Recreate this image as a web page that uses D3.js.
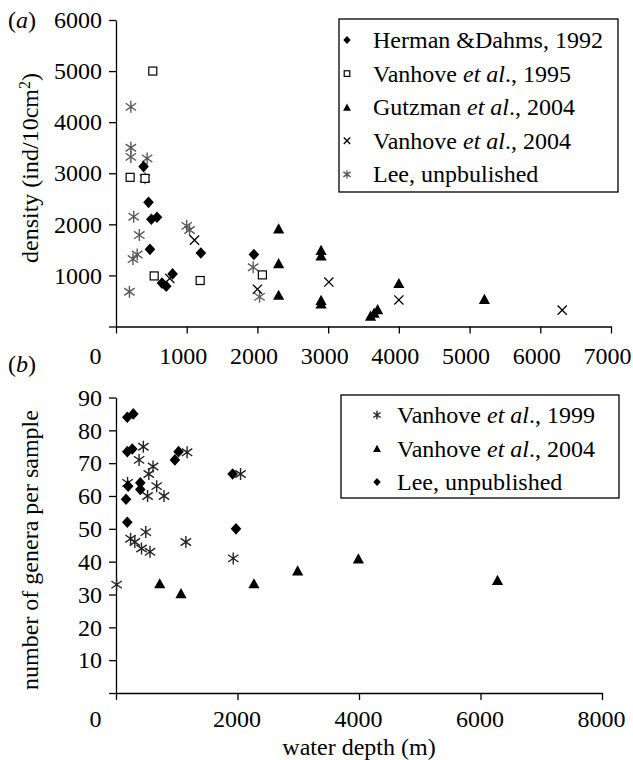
<!DOCTYPE html>
<html><head><meta charset="utf-8">
<script src="https://cdn.jsdelivr.net/npm/d3@7"></script>
<style>
html,body{margin:0;padding:0;background:#fff;}
svg text{font-family:"Liberation Serif","Times New Roman",serif;font-size:24px;fill:#000;}
</style></head>
<body>
<svg id="chart" width="633" height="760"></svg>
<script>
// ---------- data : panel (a) density ----------
const hermanDahms1992 = [[390,3130],[460,2430],[500,2100],[580,2140],[480,1510],[650,850],[710,790],[800,1030],[1200,1440],[1950,1410]];
const vanhove1995 = [[520,5000],[200,2920],[410,2900],[540,990],[1190,900],[2070,1010]];
const gutzman2004 = [[2300,1920],[2300,1240],[2300,620],[2900,1500],[2900,1390],[2900,520],[2900,450],[3600,210],[3650,270],[3700,340],[4000,850],[5210,540]];
const vanhove2004a = [[760,940],[1110,1690],[2000,730],[3010,870],[4000,520],[6310,320]];
const leeUnpublishedA = [[210,4300],[210,3500],[210,3320],[440,3290],[410,2900],[250,2150],[330,1790],[240,1320],[300,1410],[190,680],[1000,1970],[1040,1890],[1940,1160],[2030,580]];
const xTicksA = [0,1000,2000,3000,4000,5000,6000,7000];
const yTicksA = [0,1000,2000,3000,4000,5000,6000];

// ---------- data : panel (b) genera ----------
const vanhove1999 = [[10,33],[190,64],[240,47],[310,46],[380,71],[420,44],[450,75],[490,49],[520,60],[540,66.7],[560,43],[610,69],[670,63],[790,60],[1150,46],[1170,73.3],[1930,41],[2050,66.7]];
const vanhove2004b = [[720,33.4],[1070,30.4],[2270,33.4],[2990,37.3],[3990,41],[6280,34.4]];
const leeUnpublishedB = [[165,59],[186,84],[285,85],[186,73.5],[268,74.3],[200,63],[400,64],[400,62],[970,71],[1030,73.5],[1920,66.7],[186,52],[1975,50]];
const xTicksB = [0,2000,4000,6000,8000];
const yTicksB = [0,10,20,30,40,50,60,70,80,90];

const svg = d3.select("#chart");

// ---------- marker shapes ----------
function marker(g, type, s, color){
  const k = s/10;
  if(type==="diamond"){
    g.append("path").attr("d",`M0,${-5.8*k}L${5.3*k},0L0,${5.8*k}L${-5.3*k},0Z`).attr("fill","#000");
  } else if(type==="square"){
    g.append("rect").attr("x",-4*k).attr("y",-4*k).attr("width",8*k).attr("height",8*k)
      .attr("fill","#fff").attr("stroke","#000").attr("stroke-width",1.2);
  } else if(type==="triangle"){
    g.append("path").attr("d",`M0,${-5.2*k}L${5.6*k},${5*k}L${-5.6*k},${5*k}Z`).attr("fill","#000");
  } else if(type==="cross"){
    const a=4.6*k;
    g.append("path").attr("d",`M${-a},${-a}L${a},${a}M${-a},${a}L${a},${-a}`)
      .attr("stroke","#000").attr("stroke-width",1.3).attr("fill","none");
  } else if(type==="star"){
    const a=5.2*k, b=6*k;
    g.append("path").attr("d",`M${-a},${-a*0.7}L${a},${a*0.7}M${-a},${a*0.7}L${a},${-a*0.7}M0,${-b}L0,${b}`)
      .attr("stroke",color||"#000").attr("stroke-width",1.4).attr("fill","none");
  }
}

function plotSeries(data, x, y, type, color){
  const g = svg.append("g");
  g.selectAll("g.pt").data(data).join("g").attr("class","pt")
    .attr("transform",d=>`translate(${x(d[0])},${y(d[1])})`)
    .each(function(){ marker(d3.select(this), type, 10, color); });
}

function drawAxes(x, y, xTicks, yTicks, xPad, xShift){
  const gx = svg.append("g").attr("transform",`translate(0,${y(0)})`)
    .call(d3.axisBottom(x).tickValues(xTicks).tickSize(7).tickSizeOuter(0).tickPadding(xPad).tickFormat(d=>d));
  const gy = svg.append("g").attr("transform",`translate(${x(0)},0)`)
    .call(d3.axisLeft(y).tickValues(yTicks).tickSize(7).tickSizeOuter(0).tickPadding(7).tickFormat(d=> d===0 ? "" : d));
  [gx,gy].forEach(g=>{
    g.attr("font-family",null).attr("font-size",null);
    g.selectAll("path.domain").attr("stroke","#000").attr("stroke-width",1.3);
    g.selectAll(".tick line").attr("stroke","#000").attr("stroke-width",1.3);
    g.selectAll("text").attr("fill","#000");
  });
  gx.selectAll(".tick text").attr("x", d => d===0 ? -21 : xShift);
}

// ---------- panel (a) ----------
const xA = d3.scaleLinear().domain([0,7000]).range([116,611]);
const yA = d3.scaleLinear().domain([0,6000]).range([326.5,20]);
drawAxes(xA, yA, xTicksA, yTicksA, 13, -4);

plotSeries(leeUnpublishedA, xA, yA, "star", "#5a5a5a");
plotSeries(vanhove1995, xA, yA, "square");
plotSeries(gutzman2004, xA, yA, "triangle");
plotSeries(vanhove2004a, xA, yA, "cross");
plotSeries(hermanDahms1992, xA, yA, "diamond");

svg.append("text").attr("x",8).attr("y",28)
  .html('(<tspan font-style="italic">a</tspan>)');
const ta = svg.append("text").attr("text-anchor","middle")
  .attr("transform","translate(38,168) rotate(-90)");
ta.append("tspan").text("density (ind/10cm");
ta.append("tspan").attr("baseline-shift","super").attr("font-size","16px").text("2");
ta.append("tspan").text(")");

// legend (a)
const legA = [
  {type:"diamond", parts:[["Herman &Dahms, 1992",false]]},
  {type:"square", parts:[["Vanhove ",false],["et al",true],["., 1995",false]]},
  {type:"triangle", parts:[["Gutzman ",false],["et al",true],["., 2004",false]]},
  {type:"cross", parts:[["Vanhove ",false],["et al",true],["., 2004",false]]},
  {type:"star", color:"#5a5a5a", parts:[["Lee, unpbulished",false]]}
];
svg.append("rect").attr("x",339).attr("y",19).attr("width",279).attr("height",173)
  .attr("fill","#fff").attr("stroke","#000").attr("stroke-width",1.3);
legA.forEach((it,i)=>{
  const cy = 40 + i*33.6;
  const g = svg.append("g").attr("transform",`translate(347,${cy})`);
  marker(g, it.type, 7, it.color);
  const t = svg.append("text").attr("x",373).attr("y",cy+8);
  it.parts.forEach(p=>t.append("tspan").attr("font-style",p[1]?"italic":null).text(p[0]));
});

// ---------- panel (b) ----------
const xB = d3.scaleLinear().domain([0,8000]).range([116,602]);
const yB = d3.scaleLinear().domain([0,90]).range([693,397.5]);
drawAxes(xB, yB, xTicksB, yTicksB, 10, -1);

plotSeries(vanhove1999, xB, yB, "star", "#222");
plotSeries(vanhove2004b, xB, yB, "triangle");
plotSeries(leeUnpublishedB, xB, yB, "diamond");

svg.append("text").attr("x",8).attr("y",372)
  .html('(<tspan font-style="italic">b</tspan>)');
svg.append("text").attr("text-anchor","middle")
  .attr("transform","translate(38,550) rotate(-90)").text("number of genera per sample");
svg.append("text").attr("text-anchor","middle").attr("x",359).attr("y",755).text("water depth (m)");

// legend (b)
const legB = [
  {type:"star", color:"#222", parts:[["Vanhove ",false],["et al",true],["., 1999",false]]},
  {type:"triangle", parts:[["Vanhove ",false],["et al",true],["., 2004",false]]},
  {type:"diamond", parts:[["Lee, unpublished",false]]}
];
svg.append("rect").attr("x",341).attr("y",395).attr("width",278).attr("height",103)
  .attr("fill","#fff").attr("stroke","#000").attr("stroke-width",1.3);
legB.forEach((it,i)=>{
  const cy = 415 + i*33.5;
  const g = svg.append("g").attr("transform",`translate(377,${cy})`);
  marker(g, it.type, 7, it.color);
  const t = svg.append("text").attr("x",397).attr("y",cy+8);
  it.parts.forEach(p=>t.append("tspan").attr("font-style",p[1]?"italic":null).text(p[0]));
});
</script>
</body></html>
